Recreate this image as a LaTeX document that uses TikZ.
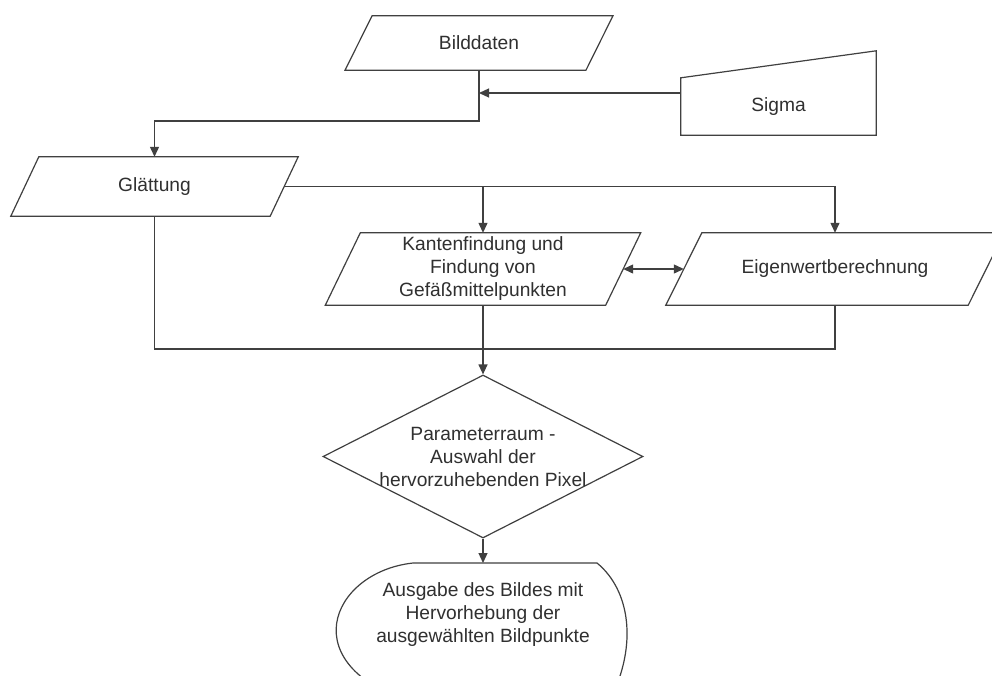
\documentclass[tikz,border=0pt]{standalone}
\usepackage{fontspec}
\setmainfont{Liberation Sans}
\usepackage{xcolor}
\usetikzlibrary{arrows.meta,shapes.geometric}
\definecolor{linegray}{HTML}{404040}
\definecolor{textgray}{HTML}{303030}

\begin{document}
\begin{tikzpicture}[x=1pt,y=-1pt,
    box/.style={inner sep=0pt, align=center, text=textgray,
      font=\fontsize{19.2}{23}\selectfont},
    line/.style={draw=linegray, line width=1.2pt},
    arr/.style={line, -{Triangle[length=10pt,width=9pt]}},
    darr/.style={line, {Triangle[length=10pt,width=9pt]}-{Triangle[length=10pt,width=9pt]}}]
  \useasboundingbox[fill=white] (0,0) rectangle (992,675);

  \node[box, minimum width=240.5pt, minimum height=54pt] (bd) at (479,43) {Bilddaten};
  \node[box, minimum width=195pt, minimum height=57pt] (sg) at (778.5,106.5) {Sigma};
  \node[box, minimum width=259pt, minimum height=59pt] (gl) at (154.5,186.5) {Glättung};
  \node[box, minimum width=280pt, minimum height=72pt] (kf) at (483,269)
    {Kantenfindung und\\Findung von\\Gefäßmittelpunkten};
  \node[box, minimum width=302pt, minimum height=72pt] (ew) at (835,269) {Eigenwertberechnung};
  \node[line, diamond, minimum width=320pt, minimum height=163pt, inner sep=0pt] (pr) at (483,456.5) {};
  \node[box] (prt) at (pr) {Parameterraum -\\Auswahl der\\hervorzuhebenden Pixel};
  \node[box] (aus) at (483,615) {Ausgabe des Bildes mit\\Hervorhebung der\\ausgewählten Bildpunkte};

  \coordinate (j1) at (479,121);
  \coordinate (j2) at (479,93);
  \coordinate (j3) at (483,349);
  \coordinate (o1) at (483,563);

  \foreach \n/\s in {bd/13.5, gl/14, kf/17.5, ew/18}
    \draw[line] ([xshift=-\s pt]\n.south west) -- ([xshift=-\s pt]\n.south east)
      -- ([xshift=\s pt]\n.north east) -- ([xshift=\s pt]\n.north west) -- cycle;
  \draw[line] (sg.north west) -- (sg.south west) -- (sg.south east)
    -- ([yshift=27pt]sg.north east) -- cycle;
  \draw[line] (413,563) -- (597,563) .. controls (630,590) and (638,645) .. (610,700)
    -- (420,705) .. controls (290,668) and (330,572) .. (413,563) -- cycle;

  \draw[arr] (bd) -- (j1) -| (gl);
  \draw[arr] (sg.west |- j2) -- (j2);
  \draw[arr] (gl.east) -| (kf);
  \draw[arr] (gl.east) -| (ew);
  \draw[darr] (kf.east) -- (ew.west);
  \draw[line] (gl) |- (j3);
  \draw[line] (ew) |- (j3);
  \draw[arr] (kf) -- (pr);
  \draw[arr] (pr) -- (o1);
\end{tikzpicture}
\end{document}
